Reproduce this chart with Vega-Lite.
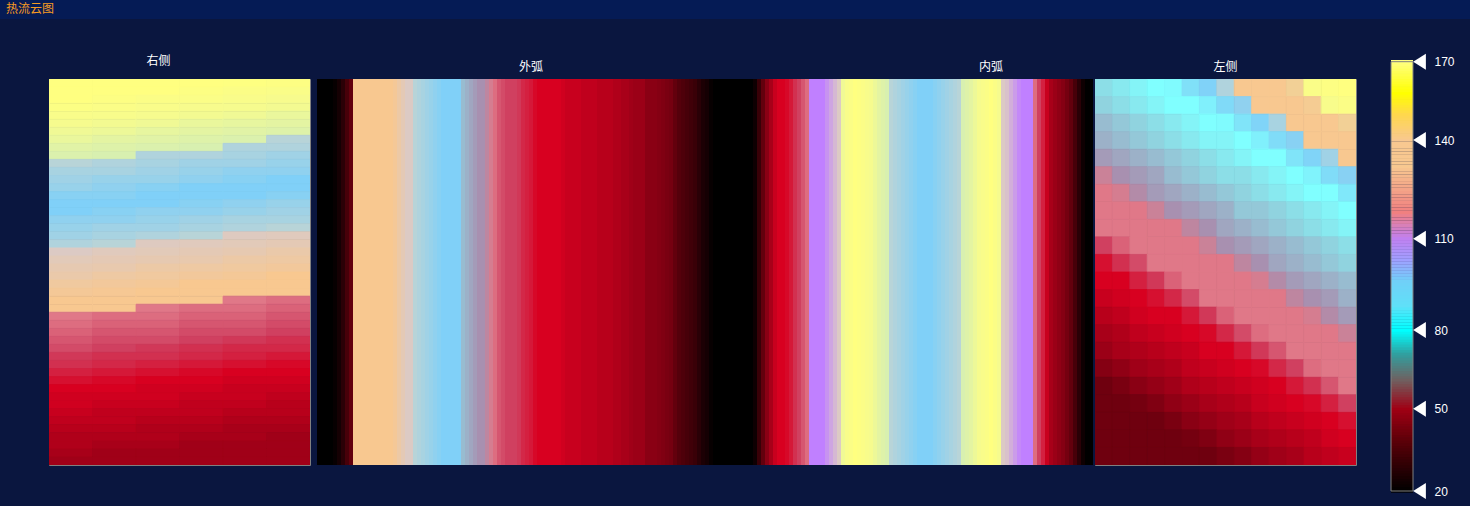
{
"$schema":"https://vega.github.io/schema/vega-lite/v6.json",
"background":"#0a163f",
"padding":{"left":0,"top":0,"right":0,"bottom":8},
"config":{"view":{"stroke":null},"title":{"color":"#ffffff","font":"Noto Sans CJK SC","fontSize":12,"fontWeight":"normal","anchor":"middle","baseline":"bottom","offset":5,"lineHeight":6},"axis":{"labelColor":"#ffffff","labelFont":"Liberation Sans","labelFontSize":12}},
"datasets":{
"right":[
{"c":0,"r":0,"v":170},{"c":1,"r":0,"v":170},{"c":2,"r":0,"v":170},{"c":3,"r":0,"v":170},{"c":4,"r":0,"v":169},{"c":5,"r":0,"v":168},
{"c":0,"r":1,"v":170},{"c":1,"r":1,"v":170},{"c":2,"r":1,"v":170},{"c":3,"r":1,"v":168},{"c":4,"r":1,"v":166},{"c":5,"r":1,"v":164},
{"c":0,"r":2,"v":170},{"c":1,"r":2,"v":168},{"c":2,"r":2,"v":166},{"c":3,"r":2,"v":165},{"c":4,"r":2,"v":163},{"c":5,"r":2,"v":161},
{"c":0,"r":3,"v":167},{"c":1,"r":3,"v":165},{"c":2,"r":3,"v":163},{"c":3,"r":3,"v":161},{"c":4,"r":3,"v":160},{"c":5,"r":3,"v":159},
{"c":0,"r":4,"v":163},{"c":1,"r":4,"v":162},{"c":2,"r":4,"v":160},{"c":3,"r":4,"v":159},{"c":4,"r":4,"v":158},{"c":5,"r":4,"v":156},
{"c":0,"r":5,"v":160},{"c":1,"r":5,"v":159},{"c":2,"r":5,"v":158},{"c":3,"r":5,"v":156},{"c":4,"r":5,"v":155},{"c":5,"r":5,"v":154},
{"c":0,"r":6,"v":158},{"c":1,"r":6,"v":157},{"c":2,"r":6,"v":155},{"c":3,"r":6,"v":154},{"c":4,"r":6,"v":153},{"c":5,"r":6,"v":152},
{"c":0,"r":7,"v":156},{"c":1,"r":7,"v":154},{"c":2,"r":7,"v":153},{"c":3,"r":7,"v":152},{"c":4,"r":7,"v":151},{"c":5,"r":7,"v":103},
{"c":0,"r":8,"v":153},{"c":1,"r":8,"v":152},{"c":2,"r":8,"v":151},{"c":3,"r":8,"v":150},{"c":4,"r":8,"v":102},{"c":5,"r":8,"v":102},
{"c":0,"r":9,"v":151},{"c":1,"r":9,"v":150},{"c":2,"r":9,"v":102},{"c":3,"r":9,"v":102},{"c":4,"r":9,"v":101},{"c":5,"r":9,"v":100},
{"c":0,"r":10,"v":103},{"c":1,"r":10,"v":102},{"c":2,"r":10,"v":101},{"c":3,"r":10,"v":100},{"c":4,"r":10,"v":100},{"c":5,"r":10,"v":99},
{"c":0,"r":11,"v":101},{"c":1,"r":11,"v":101},{"c":2,"r":11,"v":100},{"c":3,"r":11,"v":99},{"c":4,"r":11,"v":98},{"c":5,"r":11,"v":98},
{"c":0,"r":12,"v":100},{"c":1,"r":12,"v":99},{"c":2,"r":12,"v":99},{"c":3,"r":12,"v":98},{"c":4,"r":12,"v":97},{"c":5,"r":12,"v":96},
{"c":0,"r":13,"v":99},{"c":1,"r":13,"v":98},{"c":2,"r":13,"v":97},{"c":3,"r":13,"v":96},{"c":4,"r":13,"v":96},{"c":5,"r":13,"v":96},
{"c":0,"r":14,"v":97},{"c":1,"r":14,"v":97},{"c":2,"r":14,"v":96},{"c":3,"r":14,"v":96},{"c":4,"r":14,"v":96},{"c":5,"r":14,"v":97},
{"c":0,"r":15,"v":96},{"c":1,"r":15,"v":96},{"c":2,"r":15,"v":96},{"c":3,"r":15,"v":97},{"c":4,"r":15,"v":98},{"c":5,"r":15,"v":99},
{"c":0,"r":16,"v":96},{"c":1,"r":16,"v":97},{"c":2,"r":16,"v":98},{"c":3,"r":16,"v":98},{"c":4,"r":16,"v":99},{"c":5,"r":16,"v":100},
{"c":0,"r":17,"v":98},{"c":1,"r":17,"v":98},{"c":2,"r":17,"v":99},{"c":3,"r":17,"v":100},{"c":4,"r":17,"v":101},{"c":5,"r":17,"v":101},
{"c":0,"r":18,"v":99},{"c":1,"r":18,"v":100},{"c":2,"r":18,"v":100},{"c":3,"r":18,"v":101},{"c":4,"r":18,"v":102},{"c":5,"r":18,"v":103},
{"c":0,"r":19,"v":100},{"c":1,"r":19,"v":101},{"c":2,"r":19,"v":102},{"c":3,"r":19,"v":103},{"c":4,"r":19,"v":119},{"c":5,"r":19,"v":120},
{"c":0,"r":20,"v":102},{"c":1,"r":20,"v":103},{"c":2,"r":20,"v":119},{"c":3,"r":20,"v":120},{"c":4,"r":20,"v":121},{"c":5,"r":20,"v":122},
{"c":0,"r":21,"v":118},{"c":1,"r":21,"v":120},{"c":2,"r":21,"v":121},{"c":3,"r":21,"v":122},{"c":4,"r":21,"v":123},{"c":5,"r":21,"v":125},
{"c":0,"r":22,"v":121},{"c":1,"r":22,"v":122},{"c":2,"r":22,"v":123},{"c":3,"r":22,"v":124},{"c":4,"r":22,"v":126},{"c":5,"r":22,"v":127},
{"c":0,"r":23,"v":123},{"c":1,"r":23,"v":124},{"c":2,"r":23,"v":126},{"c":3,"r":23,"v":127},{"c":4,"r":23,"v":128},{"c":5,"r":23,"v":129},
{"c":0,"r":24,"v":125},{"c":1,"r":24,"v":127},{"c":2,"r":24,"v":128},{"c":3,"r":24,"v":129},{"c":4,"r":24,"v":130},{"c":5,"r":24,"v":132},
{"c":0,"r":25,"v":128},{"c":1,"r":25,"v":129},{"c":2,"r":25,"v":130},{"c":3,"r":25,"v":132},{"c":4,"r":25,"v":134},{"c":5,"r":25,"v":134},
{"c":0,"r":26,"v":130},{"c":1,"r":26,"v":131},{"c":2,"r":26,"v":134},{"c":3,"r":26,"v":134},{"c":4,"r":26,"v":134},{"c":5,"r":26,"v":134},
{"c":0,"r":27,"v":134},{"c":1,"r":27,"v":134},{"c":2,"r":27,"v":134},{"c":3,"r":27,"v":134},{"c":4,"r":27,"v":65},{"c":5,"r":27,"v":64},
{"c":0,"r":28,"v":134},{"c":1,"r":28,"v":134},{"c":2,"r":28,"v":65},{"c":3,"r":28,"v":64},{"c":4,"r":28,"v":64},{"c":5,"r":28,"v":63},
{"c":0,"r":29,"v":65},{"c":1,"r":29,"v":64},{"c":2,"r":29,"v":64},{"c":3,"r":29,"v":63},{"c":4,"r":29,"v":63},{"c":5,"r":29,"v":62},
{"c":0,"r":30,"v":64},{"c":1,"r":30,"v":63},{"c":2,"r":30,"v":63},{"c":3,"r":30,"v":62},{"c":4,"r":30,"v":62},{"c":5,"r":30,"v":61},
{"c":0,"r":31,"v":63},{"c":1,"r":31,"v":62},{"c":2,"r":31,"v":62},{"c":3,"r":31,"v":61},{"c":4,"r":31,"v":61},{"c":5,"r":31,"v":60},
{"c":0,"r":32,"v":62},{"c":1,"r":32,"v":61},{"c":2,"r":32,"v":61},{"c":3,"r":32,"v":60},{"c":4,"r":32,"v":59},{"c":5,"r":32,"v":58},
{"c":0,"r":33,"v":61},{"c":1,"r":33,"v":60},{"c":2,"r":33,"v":59},{"c":3,"r":33,"v":58},{"c":4,"r":33,"v":57},{"c":5,"r":33,"v":57},
{"c":0,"r":34,"v":59},{"c":1,"r":34,"v":58},{"c":2,"r":34,"v":58},{"c":3,"r":34,"v":57},{"c":4,"r":34,"v":56},{"c":5,"r":34,"v":55},
{"c":0,"r":35,"v":58},{"c":1,"r":35,"v":57},{"c":2,"r":35,"v":56},{"c":3,"r":35,"v":55},{"c":4,"r":35,"v":54},{"c":5,"r":35,"v":53},
{"c":0,"r":36,"v":56},{"c":1,"r":36,"v":55},{"c":2,"r":36,"v":54},{"c":3,"r":36,"v":53},{"c":4,"r":36,"v":52},{"c":5,"r":36,"v":52},
{"c":0,"r":37,"v":54},{"c":1,"r":37,"v":53},{"c":2,"r":37,"v":52},{"c":3,"r":37,"v":52},{"c":4,"r":37,"v":51},{"c":5,"r":37,"v":51},
{"c":0,"r":38,"v":52},{"c":1,"r":38,"v":52},{"c":2,"r":38,"v":51},{"c":3,"r":38,"v":51},{"c":4,"r":38,"v":50},{"c":5,"r":38,"v":50},
{"c":0,"r":39,"v":51},{"c":1,"r":39,"v":51},{"c":2,"r":39,"v":51},{"c":3,"r":39,"v":50},{"c":4,"r":39,"v":50},{"c":5,"r":39,"v":49},
{"c":0,"r":40,"v":51},{"c":1,"r":40,"v":50},{"c":2,"r":40,"v":50},{"c":3,"r":40,"v":49},{"c":4,"r":40,"v":49},{"c":5,"r":40,"v":48},
{"c":0,"r":41,"v":50},{"c":1,"r":41,"v":49},{"c":2,"r":41,"v":49},{"c":3,"r":41,"v":49},{"c":4,"r":41,"v":48},{"c":5,"r":41,"v":48},
{"c":0,"r":42,"v":49},{"c":1,"r":42,"v":49},{"c":2,"r":42,"v":48},{"c":3,"r":42,"v":48},{"c":4,"r":42,"v":47},{"c":5,"r":42,"v":47},
{"c":0,"r":43,"v":48},{"c":1,"r":43,"v":48},{"c":2,"r":43,"v":47},{"c":3,"r":43,"v":47},{"c":4,"r":43,"v":46},{"c":5,"r":43,"v":46},
{"c":0,"r":44,"v":47},{"c":1,"r":44,"v":47},{"c":2,"r":44,"v":47},{"c":3,"r":44,"v":46},{"c":4,"r":44,"v":46},{"c":5,"r":44,"v":45},
{"c":0,"r":45,"v":47},{"c":1,"r":45,"v":46},{"c":2,"r":45,"v":46},{"c":3,"r":45,"v":45},{"c":4,"r":45,"v":45},{"c":5,"r":45,"v":45},
{"c":0,"r":46,"v":46},{"c":1,"r":46,"v":45},{"c":2,"r":46,"v":45},{"c":3,"r":46,"v":45},{"c":4,"r":46,"v":45},{"c":5,"r":46,"v":45},
{"c":0,"r":47,"v":45},{"c":1,"r":47,"v":45},{"c":2,"r":47,"v":45},{"c":3,"r":47,"v":45},{"c":4,"r":47,"v":45},{"c":5,"r":47,"v":45}
],
"outer":[
{"c":0,"v":20},{"c":1,"v":20},{"c":2,"v":20},{"c":3,"v":20},{"c":4,"v":21},{"c":5,"v":23},{"c":6,"v":26},{"c":7,"v":30},{"c":8,"v":34},{"c":9,"v":132},
{"c":10,"v":132},{"c":11,"v":134},{"c":12,"v":136},{"c":13,"v":136},{"c":14,"v":136},{"c":15,"v":136},{"c":16,"v":136},{"c":17,"v":136},{"c":18,"v":136},{"c":19,"v":130},
{"c":20,"v":126},{"c":21,"v":122},{"c":22,"v":118},{"c":23,"v":118},{"c":24,"v":103},{"c":25,"v":102},{"c":26,"v":101},{"c":27,"v":100},{"c":28,"v":99},{"c":29,"v":98},
{"c":30,"v":97},{"c":31,"v":96},{"c":32,"v":96},{"c":33,"v":96},{"c":34,"v":96},{"c":35,"v":96},{"c":36,"v":74},{"c":37,"v":73},{"c":38,"v":72},{"c":39,"v":71},
{"c":40,"v":70},{"c":41,"v":70},{"c":42,"v":68},{"c":43,"v":66},{"c":44,"v":64},{"c":45,"v":62},{"c":46,"v":61},{"c":47,"v":60},{"c":48,"v":60},{"c":49,"v":60},
{"c":50,"v":59},{"c":51,"v":57},{"c":52,"v":56},{"c":53,"v":55},{"c":54,"v":53},{"c":55,"v":52},{"c":56,"v":52},{"c":57,"v":52},{"c":58,"v":52},{"c":59,"v":52},
{"c":60,"v":52},{"c":61,"v":51},{"c":62,"v":50},{"c":63,"v":50},{"c":64,"v":50},{"c":65,"v":50},{"c":66,"v":49},{"c":67,"v":49},{"c":68,"v":49},{"c":69,"v":49},
{"c":70,"v":48},{"c":71,"v":48},{"c":72,"v":48},{"c":73,"v":48},{"c":74,"v":47},{"c":75,"v":47},{"c":76,"v":46},{"c":77,"v":46},{"c":78,"v":45},{"c":79,"v":44},
{"c":80,"v":44},{"c":81,"v":44},{"c":82,"v":41},{"c":83,"v":41},{"c":84,"v":41},{"c":85,"v":40},{"c":86,"v":39},{"c":87,"v":38},{"c":88,"v":37},{"c":89,"v":34},
{"c":90,"v":32},{"c":91,"v":31},{"c":92,"v":30},{"c":93,"v":29},{"c":94,"v":28},{"c":95,"v":26},{"c":96,"v":24},{"c":97,"v":23},{"c":98,"v":21},{"c":99,"v":20},
{"c":100,"v":20},{"c":101,"v":20},{"c":102,"v":20},{"c":103,"v":20},{"c":104,"v":20},{"c":105,"v":20},{"c":106,"v":20},{"c":107,"v":20}
],
"inner":[
{"c":0,"v":20},{"c":1,"v":22},{"c":2,"v":28},{"c":3,"v":34},{"c":4,"v":41},{"c":5,"v":46},{"c":6,"v":50},{"c":7,"v":52},{"c":8,"v":52},{"c":9,"v":53},
{"c":10,"v":55},{"c":11,"v":58},{"c":12,"v":60},{"c":13,"v":62},{"c":14,"v":64},{"c":15,"v":110},{"c":16,"v":110},{"c":17,"v":110},{"c":18,"v":110},{"c":19,"v":112},
{"c":20,"v":114},{"c":21,"v":116},{"c":22,"v":118},{"c":23,"v":158},{"c":24,"v":162},{"c":25,"v":166},{"c":26,"v":170},{"c":27,"v":168},{"c":28,"v":165},{"c":29,"v":162},
{"c":30,"v":160},{"c":31,"v":157},{"c":32,"v":154},{"c":33,"v":152},{"c":34,"v":150},{"c":35,"v":103},{"c":36,"v":102},{"c":37,"v":101},{"c":38,"v":100},{"c":39,"v":99},
{"c":40,"v":98},{"c":41,"v":97},{"c":42,"v":96},{"c":43,"v":96},{"c":44,"v":96},{"c":45,"v":96},{"c":46,"v":97},{"c":47,"v":98},{"c":48,"v":99},{"c":49,"v":100},
{"c":50,"v":101},{"c":51,"v":102},{"c":52,"v":103},{"c":53,"v":150},{"c":54,"v":152},{"c":55,"v":154},{"c":56,"v":157},{"c":57,"v":160},{"c":58,"v":163},{"c":59,"v":166},
{"c":60,"v":170},{"c":61,"v":166},{"c":62,"v":160},{"c":63,"v":118},{"c":64,"v":117},{"c":65,"v":115},{"c":66,"v":113},{"c":67,"v":111},{"c":68,"v":110},{"c":69,"v":110},
{"c":70,"v":110},{"c":71,"v":64},{"c":72,"v":60},{"c":73,"v":56},{"c":74,"v":50},{"c":75,"v":46},{"c":76,"v":44},{"c":77,"v":42},{"c":78,"v":40},{"c":79,"v":37},
{"c":80,"v":34},{"c":81,"v":30},{"c":82,"v":26},{"c":83,"v":22},{"c":84,"v":20},{"c":85,"v":20}
],
"left":[
{"c":0,"r":0,"v":77},{"c":1,"r":0,"v":78},{"c":2,"r":0,"v":79},{"c":3,"r":0,"v":80},{"c":4,"r":0,"v":81},{"c":5,"r":0,"v":88},{"c":6,"r":0,"v":95},{"c":7,"r":0,"v":102},{"c":8,"r":0,"v":134},{"c":9,"r":0,"v":137},{"c":10,"r":0,"v":140},{"c":11,"r":0,"v":142},{"c":12,"r":0,"v":164},{"c":13,"r":0,"v":168},{"c":14,"r":0,"v":170},
{"c":0,"r":1,"v":76},{"c":1,"r":1,"v":77},{"c":2,"r":1,"v":78},{"c":3,"r":1,"v":79},{"c":4,"r":1,"v":80},{"c":5,"r":1,"v":80},{"c":6,"r":1,"v":84},{"c":7,"r":1,"v":91},{"c":8,"r":1,"v":98},{"c":9,"r":1,"v":133},{"c":10,"r":1,"v":135},{"c":11,"r":1,"v":138},{"c":12,"r":1,"v":141},{"c":13,"r":1,"v":162},{"c":14,"r":1,"v":166},
{"c":0,"r":2,"v":74},{"c":1,"r":2,"v":75},{"c":2,"r":2,"v":76},{"c":3,"r":2,"v":77},{"c":4,"r":2,"v":78},{"c":5,"r":2,"v":79},{"c":6,"r":2,"v":80},{"c":7,"r":2,"v":81},{"c":8,"r":2,"v":87},{"c":9,"r":2,"v":94},{"c":10,"r":2,"v":101},{"c":11,"r":2,"v":134},{"c":12,"r":2,"v":137},{"c":13,"r":2,"v":139},{"c":14,"r":2,"v":142},
{"c":0,"r":3,"v":73},{"c":1,"r":3,"v":74},{"c":2,"r":3,"v":75},{"c":3,"r":3,"v":76},{"c":4,"r":3,"v":77},{"c":5,"r":3,"v":78},{"c":6,"r":3,"v":79},{"c":7,"r":3,"v":79},{"c":8,"r":3,"v":80},{"c":9,"r":3,"v":84},{"c":10,"r":3,"v":90},{"c":11,"r":3,"v":97},{"c":12,"r":3,"v":132},{"c":13,"r":3,"v":135},{"c":14,"r":3,"v":138},
{"c":0,"r":4,"v":71},{"c":1,"r":4,"v":72},{"c":2,"r":4,"v":73},{"c":3,"r":4,"v":74},{"c":4,"r":4,"v":75},{"c":5,"r":4,"v":76},{"c":6,"r":4,"v":77},{"c":7,"r":4,"v":78},{"c":8,"r":4,"v":79},{"c":9,"r":4,"v":80},{"c":10,"r":4,"v":80},{"c":11,"r":4,"v":87},{"c":12,"r":4,"v":94},{"c":13,"r":4,"v":100},{"c":14,"r":4,"v":134},
{"c":0,"r":5,"v":67},{"c":1,"r":5,"v":70},{"c":2,"r":5,"v":71},{"c":3,"r":5,"v":72},{"c":4,"r":5,"v":74},{"c":5,"r":5,"v":75},{"c":6,"r":5,"v":76},{"c":7,"r":5,"v":77},{"c":8,"r":5,"v":77},{"c":9,"r":5,"v":78},{"c":10,"r":5,"v":79},{"c":11,"r":5,"v":80},{"c":12,"r":5,"v":83},{"c":13,"r":5,"v":90},{"c":14,"r":5,"v":97},
{"c":0,"r":6,"v":65},{"c":1,"r":6,"v":66},{"c":2,"r":6,"v":69},{"c":3,"r":6,"v":71},{"c":4,"r":6,"v":72},{"c":5,"r":6,"v":73},{"c":6,"r":6,"v":74},{"c":7,"r":6,"v":75},{"c":8,"r":6,"v":76},{"c":9,"r":6,"v":77},{"c":10,"r":6,"v":78},{"c":11,"r":6,"v":79},{"c":12,"r":6,"v":80},{"c":13,"r":6,"v":80},{"c":14,"r":6,"v":86},
{"c":0,"r":7,"v":65},{"c":1,"r":7,"v":65},{"c":2,"r":7,"v":65},{"c":3,"r":7,"v":67},{"c":4,"r":7,"v":70},{"c":5,"r":7,"v":71},{"c":6,"r":7,"v":72},{"c":7,"r":7,"v":73},{"c":8,"r":7,"v":75},{"c":9,"r":7,"v":75},{"c":10,"r":7,"v":76},{"c":11,"r":7,"v":77},{"c":12,"r":7,"v":78},{"c":13,"r":7,"v":79},{"c":14,"r":7,"v":80},
{"c":0,"r":8,"v":65},{"c":1,"r":8,"v":65},{"c":2,"r":8,"v":65},{"c":3,"r":8,"v":65},{"c":4,"r":8,"v":65},{"c":5,"r":8,"v":68},{"c":6,"r":8,"v":70},{"c":7,"r":8,"v":72},{"c":8,"r":8,"v":73},{"c":9,"r":8,"v":74},{"c":10,"r":8,"v":75},{"c":11,"r":8,"v":76},{"c":12,"r":8,"v":77},{"c":13,"r":8,"v":78},{"c":14,"r":8,"v":79},
{"c":0,"r":9,"v":60},{"c":1,"r":9,"v":63},{"c":2,"r":9,"v":65},{"c":3,"r":9,"v":65},{"c":4,"r":9,"v":65},{"c":5,"r":9,"v":65},{"c":6,"r":9,"v":67},{"c":7,"r":9,"v":70},{"c":8,"r":9,"v":71},{"c":9,"r":9,"v":72},{"c":10,"r":9,"v":73},{"c":11,"r":9,"v":74},{"c":12,"r":9,"v":75},{"c":13,"r":9,"v":76},{"c":14,"r":9,"v":77},
{"c":0,"r":10,"v":54},{"c":1,"r":10,"v":58},{"c":2,"r":10,"v":61},{"c":3,"r":10,"v":65},{"c":4,"r":10,"v":65},{"c":5,"r":10,"v":65},{"c":6,"r":10,"v":65},{"c":7,"r":10,"v":65},{"c":8,"r":10,"v":68},{"c":9,"r":10,"v":70},{"c":10,"r":10,"v":72},{"c":11,"r":10,"v":73},{"c":12,"r":10,"v":74},{"c":13,"r":10,"v":75},{"c":14,"r":10,"v":76},
{"c":0,"r":11,"v":52},{"c":1,"r":11,"v":52},{"c":2,"r":11,"v":56},{"c":3,"r":11,"v":59},{"c":4,"r":11,"v":63},{"c":5,"r":11,"v":65},{"c":6,"r":11,"v":65},{"c":7,"r":11,"v":65},{"c":8,"r":11,"v":65},{"c":9,"r":11,"v":66},{"c":10,"r":11,"v":69},{"c":11,"r":11,"v":71},{"c":12,"r":11,"v":72},{"c":13,"r":11,"v":73},{"c":14,"r":11,"v":74},
{"c":0,"r":12,"v":50},{"c":1,"r":12,"v":51},{"c":2,"r":12,"v":52},{"c":3,"r":12,"v":54},{"c":4,"r":12,"v":57},{"c":5,"r":12,"v":61},{"c":6,"r":12,"v":65},{"c":7,"r":12,"v":65},{"c":8,"r":12,"v":65},{"c":9,"r":12,"v":65},{"c":10,"r":12,"v":65},{"c":11,"r":12,"v":68},{"c":12,"r":12,"v":70},{"c":13,"r":12,"v":71},{"c":14,"r":12,"v":73},
{"c":0,"r":13,"v":48},{"c":1,"r":13,"v":49},{"c":2,"r":13,"v":51},{"c":3,"r":13,"v":52},{"c":4,"r":13,"v":52},{"c":5,"r":13,"v":55},{"c":6,"r":13,"v":59},{"c":7,"r":13,"v":63},{"c":8,"r":13,"v":65},{"c":9,"r":13,"v":65},{"c":10,"r":13,"v":65},{"c":11,"r":13,"v":65},{"c":12,"r":13,"v":66},{"c":13,"r":13,"v":69},{"c":14,"r":13,"v":71},
{"c":0,"r":14,"v":46},{"c":1,"r":14,"v":47},{"c":2,"r":14,"v":49},{"c":3,"r":14,"v":50},{"c":4,"r":14,"v":51},{"c":5,"r":14,"v":52},{"c":6,"r":14,"v":53},{"c":7,"r":14,"v":57},{"c":8,"r":14,"v":61},{"c":9,"r":14,"v":64},{"c":10,"r":14,"v":65},{"c":11,"r":14,"v":65},{"c":12,"r":14,"v":65},{"c":13,"r":14,"v":65},{"c":14,"r":14,"v":67},
{"c":0,"r":15,"v":44},{"c":1,"r":15,"v":46},{"c":2,"r":15,"v":47},{"c":3,"r":15,"v":48},{"c":4,"r":15,"v":49},{"c":5,"r":15,"v":50},{"c":6,"r":15,"v":52},{"c":7,"r":15,"v":52},{"c":8,"r":15,"v":55},{"c":9,"r":15,"v":59},{"c":10,"r":15,"v":62},{"c":11,"r":15,"v":65},{"c":12,"r":15,"v":65},{"c":13,"r":15,"v":65},{"c":14,"r":15,"v":65},
{"c":0,"r":16,"v":40},{"c":1,"r":16,"v":42},{"c":2,"r":16,"v":45},{"c":3,"r":16,"v":46},{"c":4,"r":16,"v":47},{"c":5,"r":16,"v":49},{"c":6,"r":16,"v":50},{"c":7,"r":16,"v":51},{"c":8,"r":16,"v":52},{"c":9,"r":16,"v":53},{"c":10,"r":16,"v":57},{"c":11,"r":16,"v":60},{"c":12,"r":16,"v":64},{"c":13,"r":16,"v":65},{"c":14,"r":16,"v":65},
{"c":0,"r":17,"v":36},{"c":1,"r":17,"v":38},{"c":2,"r":17,"v":41},{"c":3,"r":17,"v":43},{"c":4,"r":17,"v":45},{"c":5,"r":17,"v":47},{"c":6,"r":17,"v":48},{"c":7,"r":17,"v":49},{"c":8,"r":17,"v":50},{"c":9,"r":17,"v":51},{"c":10,"r":17,"v":52},{"c":11,"r":17,"v":55},{"c":12,"r":17,"v":58},{"c":13,"r":17,"v":62},{"c":14,"r":17,"v":65},
{"c":0,"r":18,"v":36},{"c":1,"r":18,"v":36},{"c":2,"r":18,"v":37},{"c":3,"r":18,"v":39},{"c":4,"r":18,"v":42},{"c":5,"r":18,"v":44},{"c":6,"r":18,"v":46},{"c":7,"r":18,"v":47},{"c":8,"r":18,"v":48},{"c":9,"r":18,"v":50},{"c":10,"r":18,"v":51},{"c":11,"r":18,"v":52},{"c":12,"r":18,"v":53},{"c":13,"r":18,"v":56},{"c":14,"r":18,"v":60},
{"c":0,"r":19,"v":36},{"c":1,"r":19,"v":36},{"c":2,"r":19,"v":36},{"c":3,"r":19,"v":36},{"c":4,"r":19,"v":38},{"c":5,"r":19,"v":41},{"c":6,"r":19,"v":43},{"c":7,"r":19,"v":45},{"c":8,"r":19,"v":46},{"c":9,"r":19,"v":48},{"c":10,"r":19,"v":49},{"c":11,"r":19,"v":50},{"c":12,"r":19,"v":51},{"c":13,"r":19,"v":52},{"c":14,"r":19,"v":54},
{"c":0,"r":20,"v":36},{"c":1,"r":20,"v":36},{"c":2,"r":20,"v":36},{"c":3,"r":20,"v":36},{"c":4,"r":20,"v":36},{"c":5,"r":20,"v":37},{"c":6,"r":20,"v":39},{"c":7,"r":20,"v":42},{"c":8,"r":20,"v":44},{"c":9,"r":20,"v":46},{"c":10,"r":20,"v":47},{"c":11,"r":20,"v":48},{"c":12,"r":20,"v":49},{"c":13,"r":20,"v":51},{"c":14,"r":20,"v":52},
{"c":0,"r":21,"v":36},{"c":1,"r":21,"v":36},{"c":2,"r":21,"v":36},{"c":3,"r":21,"v":36},{"c":4,"r":21,"v":36},{"c":5,"r":21,"v":36},{"c":6,"r":21,"v":36},{"c":7,"r":21,"v":38},{"c":8,"r":21,"v":40},{"c":9,"r":21,"v":43},{"c":10,"r":21,"v":45},{"c":11,"r":21,"v":46},{"c":12,"r":21,"v":48},{"c":13,"r":21,"v":49},{"c":14,"r":21,"v":50}
],
"bar":[
{"v":20},{"v":21},{"v":22},{"v":23},{"v":24},{"v":25},{"v":26},{"v":27},{"v":28},{"v":29},{"v":30},{"v":31},{"v":32},{"v":33},{"v":34},{"v":35},{"v":36},{"v":37},{"v":38},{"v":39},
{"v":40},{"v":41},{"v":42},{"v":43},{"v":44},{"v":45},{"v":46},{"v":47},{"v":48},{"v":49},{"v":50},{"v":51},{"v":52},{"v":53},{"v":54},{"v":55},{"v":56},{"v":57},{"v":58},{"v":59},
{"v":60},{"v":61},{"v":62},{"v":63},{"v":64},{"v":65},{"v":66},{"v":67},{"v":68},{"v":69},{"v":70},{"v":71},{"v":72},{"v":73},{"v":74},{"v":75},{"v":76},{"v":77},{"v":78},{"v":79},
{"v":80},{"v":81},{"v":82},{"v":83},{"v":84},{"v":85},{"v":86},{"v":87},{"v":88},{"v":89},{"v":90},{"v":91},{"v":92},{"v":93},{"v":94},{"v":95},{"v":96},{"v":97},{"v":98},{"v":99},
{"v":100},{"v":101},{"v":102},{"v":103},{"v":104},{"v":105},{"v":106},{"v":107},{"v":108},{"v":109},{"v":110},{"v":111},{"v":112},{"v":113},{"v":114},{"v":115},{"v":116},{"v":117},{"v":118},{"v":119},
{"v":120},{"v":121},{"v":122},{"v":123},{"v":124},{"v":125},{"v":126},{"v":127},{"v":128},{"v":129},{"v":130},{"v":131},{"v":132},{"v":133},{"v":134},{"v":135},{"v":136},{"v":137},{"v":138},{"v":139},
{"v":140},{"v":141},{"v":142},{"v":143},{"v":144},{"v":145},{"v":146},{"v":147},{"v":148},{"v":149},{"v":150},{"v":151},{"v":152},{"v":153},{"v":154},{"v":155},{"v":156},{"v":157},{"v":158},{"v":159},
{"v":160},{"v":161},{"v":162},{"v":163},{"v":164},{"v":165},{"v":166},{"v":167},{"v":168},{"v":169},{"v":170}
],
"marks":[{"v":20},{"v":50},{"v":80},{"v":110},{"v":140},{"v":170}]
},
"spacing":34,
"vconcat":[
{"width":1470,"height":19,"view":{"fill":"#051b55","stroke":null},
 "data":{"values":[{"t":"热流云图"}]},
 "mark":{"type":"text","align":"left","baseline":"middle","dx":6,"dy":-1,"font":"Noto Sans CJK SC","fontSize":12,"color":"#f59a23"},
 "encoding":{"text":{"field":"t"},"x":{"datum":0,"type":"quantitative","scale":{"domain":[0,1]},"axis":null}}},
{"spacing":0,"bounds":"flush","hconcat":[
 {"width":49,"height":1,"data":{"values":[{}]},"mark":{"type":"text","text":""},"encoding":{}},
 {"width":261,"height":386,"title":{"text":["右侧"," "],"dx":-21},"view":{"stroke":"#808080"},
  "data":{"name":"right"},"mark":{"type":"rect","strokeWidth":0.8,"clip":true},
  "encoding":{"x":{"field":"c","type":"ordinal","axis":null},"y":{"field":"r","type":"ordinal","axis":null},
   "fill":{"field":"v","type":"quantitative","legend":null,"scale":{"domain":[20,35,45,52,60,65,70,80,88,96,103,110,118,132,140,150,160,170],"range":["#000000","#6a000e","#a00018","#d80020","#d04060","#e07888","#a890b0","#80ffff","#80e0f8","#80d0f8","#b8d4d8","#c080ff","#dccac4","#f8c890","#f8c890","#d8f0b0","#f6fb8e","#ffff80"],"interpolate":"rgb"}},
   "stroke":{"field":"v","type":"quantitative","legend":null,"scale":{"domain":[20,35,45,52,60,65,70,80,88,96,103,110,118,132,140,150,160,170],"range":["#000000","#6a000e","#a00018","#d80020","#d04060","#e07888","#a890b0","#80ffff","#80e0f8","#80d0f8","#b8d4d8","#c080ff","#dccac4","#f8c890","#f8c890","#d8f0b0","#f6fb8e","#ffff80"],"interpolate":"rgb"}}}},
 {"width":7,"height":1,"data":{"values":[{}]},"mark":{"type":"text","text":""},"encoding":{}},
 {"width":432,"height":386,"title":{"text":[" ","外弧"],"dx":-2},
  "data":{"name":"outer"},"mark":{"type":"rect"},
  "encoding":{"x":{"field":"c","type":"ordinal","axis":null},
   "fill":{"field":"v","type":"quantitative","legend":null,"scale":{"domain":[20,35,45,52,60,65,70,80,88,96,103,110,118,132,140,150,160,170],"range":["#000000","#6a000e","#a00018","#d80020","#d04060","#e07888","#a890b0","#80ffff","#80e0f8","#80d0f8","#b8d4d8","#c080ff","#dccac4","#f8c890","#f8c890","#d8f0b0","#f6fb8e","#ffff80"],"interpolate":"rgb"}}}},
 {"width":344,"height":386,"title":{"text":[" ","内弧"],"dx":70},
  "data":{"name":"inner"},"mark":{"type":"rect"},
  "encoding":{"x":{"field":"c","type":"ordinal","axis":null},
   "fill":{"field":"v","type":"quantitative","legend":null,"scale":{"domain":[20,35,45,52,60,65,70,80,88,96,103,110,118,132,140,150,160,170],"range":["#000000","#6a000e","#a00018","#d80020","#d04060","#e07888","#a890b0","#80ffff","#80e0f8","#80d0f8","#b8d4d8","#c080ff","#dccac4","#f8c890","#f8c890","#d8f0b0","#f6fb8e","#ffff80"],"interpolate":"rgb"}}}},
 {"width":2,"height":1,"data":{"values":[{}]},"mark":{"type":"text","text":""},"encoding":{}},
 {"width":261,"height":386,"title":{"text":[" ","左侧"]},"view":{"stroke":"#808080"},
  "data":{"name":"left"},"mark":{"type":"rect","strokeWidth":0.8,"clip":true},
  "encoding":{"x":{"field":"c","type":"ordinal","axis":null},"y":{"field":"r","type":"ordinal","axis":null},
   "fill":{"field":"v","type":"quantitative","legend":null,"scale":{"domain":[20,35,45,52,60,65,70,80,88,96,103,110,118,132,140,150,160,170],"range":["#000000","#6a000e","#a00018","#d80020","#d04060","#e07888","#a890b0","#80ffff","#80e0f8","#80d0f8","#b8d4d8","#c080ff","#dccac4","#f8c890","#f8c890","#d8f0b0","#f6fb8e","#ffff80"],"interpolate":"rgb"}},
   "stroke":{"field":"v","type":"quantitative","legend":null,"scale":{"domain":[20,35,45,52,60,65,70,80,88,96,103,110,118,132,140,150,160,170],"range":["#000000","#6a000e","#a00018","#d80020","#d04060","#e07888","#a890b0","#80ffff","#80e0f8","#80d0f8","#b8d4d8","#c080ff","#dccac4","#f8c890","#f8c890","#d8f0b0","#f6fb8e","#ffff80"],"interpolate":"rgb"}}}},
 {"width":35,"height":1,"data":{"values":[{}]},"mark":{"type":"text","text":""},"encoding":{}},
 {"width":22,"height":412,
  "layer":[
   {"data":{"name":"bar"},"mark":{"type":"tick","orient":"horizontal","thickness":3.4,"size":22,"opacity":1},
    "encoding":{"y":{"field":"v","type":"quantitative","axis":null,"scale":{"domain":[20,50,80,110,140,170],"range":[412,329.7,251,159.7,61,-17.3],"nice":false,"zero":false}},
     "color":{"field":"v","type":"quantitative","legend":null,"scale":{"domain":[20,38,50,61,71,80,88,96,103,110,118,132,140,150,158,170],"range":["#000000","#5a0008","#a00014","#706060","#30a0a0","#00ffff","#60e0f8","#70d0f8","#a0a0ff","#c080f0","#f08080","#f8c890","#f8c890","#ffd84c","#ffff00","#ffff80"],"interpolate":"rgb"}}}},
   {"data":{"values":[{"lo":20,"hi":170}]},"mark":{"type":"rect","filled":false,"color":"#808080","strokeWidth":1},
    "encoding":{"y":{"field":"lo","type":"quantitative"},"y2":{"field":"hi"}}}
  ]},
 {"width":13,"height":412,
  "data":{"name":"marks"},"mark":{"type":"point","shape":"M-1,0L1,-1.26L1,1.26Z","filled":true,"color":"#ffffff","opacity":1,"size":161,"strokeWidth":0},
  "encoding":{"y":{"field":"v","type":"quantitative","scale":{"domain":[20,50,80,110,140,170],"range":[412,329.7,251,159.7,61,-17.3],"nice":false,"zero":false},
   "axis":{"orient":"right","values":[20,50,80,110,140,170],"ticks":false,"tickSize":0,"domain":false,"grid":false,"labelPadding":8,"title":null,"labelBaseline":"middle"}}}}
]}
]
}
